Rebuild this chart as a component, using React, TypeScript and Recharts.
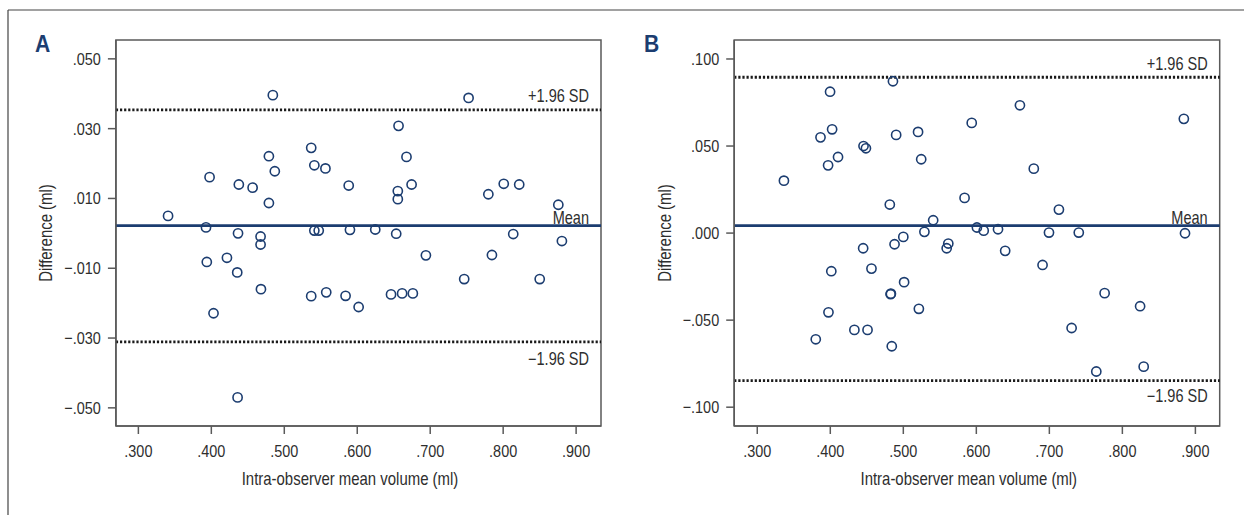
import React from 'react';
import { ScatterChart, Scatter, XAxis, YAxis, ReferenceLine, ReferenceArea, Label } from 'recharts';

const FONT = '"Liberation Sans", Arial, sans-serif';
const TEXT = '#2e2e2e';
const NAVY = '#1c3d70';
const BORDER = '#5a5a5a';

const xTicks = [0.3, 0.4, 0.5, 0.6, 0.7, 0.8, 0.9];
const yTicksA = [-0.05, -0.03, -0.01, 0.01, 0.03, 0.05];
const yTicksB = [-0.1, -0.05, 0, 0.05, 0.1];

const xDomainA = [0.2692, 0.9341];
const yDomainA = [-0.0552, 0.0554];
const xDomainB = [0.2684, 0.9333];
const yDomainB = [-0.1108, 0.1109];

const meanVolumeA = [
  0.3407, 0.3927, 0.3976, 0.3938, 0.403, 0.4214, 0.4377, 0.4366, 0.4355, 0.436,
  0.4566, 0.4675, 0.4675, 0.468, 0.4789, 0.4789, 0.4843, 0.487, 0.5369, 0.5369,
  0.5412, 0.5412, 0.5472, 0.5564, 0.5575, 0.584, 0.5883, 0.59, 0.6019, 0.6247,
  0.6534, 0.6556, 0.6556, 0.6566, 0.6463, 0.6615, 0.6675, 0.6745, 0.6762, 0.6941,
  0.7466, 0.7526, 0.7797, 0.7846, 0.8008, 0.8138, 0.822, 0.8501, 0.8756, 0.8805,
];
const differenceA = [
  0.005, 0.0017, 0.0161, -0.0082, -0.0229, -0.007, 0.014, 0.0, -0.0112, -0.047,
  0.0131, -0.0009, -0.0032, -0.016, 0.0221, 0.0087, 0.0396, 0.0178, 0.0245, -0.018,
  0.0195, 0.0008, 0.0008, 0.0186, -0.0169, -0.0179, 0.0137, 0.001, -0.0211, 0.0011,
  -0.0001, 0.0098, 0.0121, 0.0308, -0.0175, -0.0172, 0.0219, 0.014, -0.0172, -0.0063,
  -0.0131, 0.0388, 0.0112, -0.0062, 0.0142, -0.0002, 0.014, -0.0131, 0.0082, -0.0022,
];
const limitsA = [0.0354, 0.0022, -0.0311];

const meanVolumeB = [
  0.3365, 0.3801, 0.3866, 0.397, 0.3975, 0.3997, 0.4025, 0.4014, 0.4106, 0.433,
  0.445, 0.4455, 0.4488, 0.451, 0.4564, 0.4815, 0.4826, 0.483, 0.4842, 0.4858,
  0.488, 0.4902, 0.5, 0.5011, 0.5202, 0.5213, 0.5245, 0.5289, 0.5409, 0.5594,
  0.5616, 0.5839, 0.5937, 0.6008, 0.6101, 0.6297, 0.6395, 0.6597, 0.6787, 0.6907,
  0.6995, 0.7131, 0.7305, 0.7403, 0.7643, 0.7757, 0.8243, 0.8292, 0.8842, 0.8858,
];
const differenceB = [
  0.0301, -0.061, 0.055, 0.0389, -0.0455, 0.0812, 0.0596, -0.0219, 0.0437, -0.0556,
  -0.0087, 0.05, 0.0487, -0.0556, -0.0204, 0.0164, -0.0351, -0.0348, -0.065, 0.0872,
  -0.0064, 0.0564, -0.0022, -0.0282, 0.0581, -0.0435, 0.0424, 0.0007, 0.0074, -0.0087,
  -0.006, 0.0202, 0.0633, 0.0032, 0.0014, 0.0022, -0.0102, 0.0734, 0.037, -0.0183,
  0.0003, 0.0135, -0.0545, 0.0003, -0.0795, -0.0345, -0.042, -0.0767, 0.0656, -0.0001,
];
const limitsB = [0.0895, 0.0043, -0.0847];

const limitLabels = ['+1.96 SD', 'Mean', '\u22121.96 SD'];
const xTitle = 'Intra-observer mean volume (ml)';
const yTitle = 'Difference (ml)';

const fmt = (v: number) => {
  const s = Math.abs(v).toFixed(3).replace(/^0/, '');
  return v < -1e-9 ? '\u2212' + s : s;
};

// condensed text: Liberation Sans squeezed horizontally
const CText = (p: {
  x: number;
  y: number;
  anchor?: string;
  size: number;
  sx: number;
  rotate?: number;
  weight?: string;
  color?: string;
  children: React.ReactNode;
}) => (
  <text
    transform={`translate(${p.x},${p.y})${p.rotate ? ` rotate(${p.rotate})` : ''} scale(${p.sx},1)`}
    x={0}
    y={0}
    textAnchor={p.anchor || 'start'}
    fontFamily={FONT}
    fontSize={p.size}
    fontWeight={p.weight || 'normal'}
    fill={p.color || TEXT}
  >
    {p.children}
  </text>
);

const marker = (p: any) => (
  <circle cx={p.cx} cy={p.cy} r={4.6} fill="none" stroke={NAVY} strokeWidth={1.6} />
);

const refLabel = (text: string, dy: number) => (props: any) => {
  const vb = props.viewBox || {};
  return (
    <CText x={vb.x + vb.width - 12} y={vb.y + dy} anchor="end" size={17.5} sx={0.83}>
      {text}
    </CText>
  );
};

const xTick = (props: any) => (
  <CText x={props.x} y={props.y + 13} anchor="middle" size={17} sx={0.85}>
    {fmt(props.payload.value)}
  </CText>
);

const yTick = (props: any) => (
  <CText x={props.x} y={props.y + 6} anchor="end" size={17} sx={0.85}>
    {fmt(props.payload.value)}
  </CText>
);

type PanelProps = {
  left: number;
  width: number;
  marginLeft: number;
  marginRight: number;
  xDomain: number[];
  yDomain: number[];
  yTicks: number[];
  xs: number[];
  ys: number[];
  limits: number[];
  labelDy: number[];
  xTitleX: number;
  yTitleX: number;
};

const Panel = (p: PanelProps) => {
  const data = p.xs.map((x, i) => ({ x, y: p.ys[i] }));
  return (
    <div style={{ position: 'absolute', left: p.left, top: 0 }}>
      <ScatterChart
        width={p.width}
        height={515}
        margin={{ top: 40, right: p.marginRight, bottom: 19, left: p.marginLeft }}
      >
        <XAxis
          type="number"
          dataKey="x"
          domain={p.xDomain}
          ticks={xTicks}
          allowDataOverflow
          height={70}
          tickSize={8}
          tickMargin={10}
          tick={xTick}
          stroke={BORDER}
          axisLine={{ stroke: BORDER, strokeWidth: 1.5 }}
          tickLine={{ stroke: BORDER, strokeWidth: 1.5 }}
        >
          <Label
            content={() => (
              <CText x={p.xTitleX} y={485} anchor="middle" size={18} sx={0.83}>
                {xTitle}
              </CText>
            )}
          />
        </XAxis>
        <YAxis
          type="number"
          dataKey="y"
          domain={p.yDomain}
          ticks={p.yTicks}
          allowDataOverflow
          width={70}
          tickSize={8}
          tickMargin={7}
          tick={yTick}
          stroke={BORDER}
          axisLine={{ stroke: BORDER, strokeWidth: 1.5 }}
          tickLine={{ stroke: BORDER, strokeWidth: 1.5 }}
        >
          <Label
            content={() => (
              <CText x={p.yTitleX + 6} y={233} anchor="middle" size={18} sx={0.83} rotate={-90}>
                {yTitle}
              </CText>
            )}
          />
        </YAxis>
        <ReferenceArea
          x1={p.xDomain[0]}
          x2={p.xDomain[1]}
          y1={p.yDomain[0]}
          y2={p.yDomain[1]}
          fill="none"
          stroke={BORDER}
          strokeWidth={1.5}
          fillOpacity={0}
        />
        <ReferenceLine
          y={p.limits[0]}
          stroke="#1a1a1a"
          strokeWidth={2.8}
          strokeDasharray="2.2 1.9"
          label={refLabel(limitLabels[0], p.labelDy[0])}
        />
        <ReferenceLine
          y={p.limits[1]}
          stroke={NAVY}
          strokeWidth={2.6}
          label={refLabel(limitLabels[1], p.labelDy[1])}
        />
        <ReferenceLine
          y={p.limits[2]}
          stroke="#1a1a1a"
          strokeWidth={2.8}
          strokeDasharray="2.2 1.9"
          label={refLabel(limitLabels[2], p.labelDy[2])}
        />
        <Scatter data={data} shape={marker} isAnimationActive={false} />
      </ScatterChart>
    </div>
  );
};

export default function App() {
  return (
    <div style={{ position: 'absolute', left: 0, top: 0, width: 1244, height: 515, background: '#fff', overflow: 'hidden' }}>
      <svg width={1244} height={515} style={{ position: 'absolute', left: 0, top: 0 }}>
        <line x1={8} y1={10} x2={1244} y2={10} stroke="#444" strokeWidth={1.2} />
        <line x1={8} y1={10} x2={8} y2={515} stroke="#444" strokeWidth={1.2} />
        <CText x={35} y={52} size={24} sx={0.88} weight="bold" color={NAVY}>A</CText>
        <CText x={644} y={52} size={24} sx={0.88} weight="bold" color={NAVY}>B</CText>
      </svg>
      <Panel
        left={0}
        width={620}
        marginLeft={45.9}
        marginRight={19}
        xDomain={xDomainA}
        yDomain={yDomainA}
        yTicks={yTicksA}
        xs={meanVolumeA}
        ys={differenceA}
        limits={limitsA}
        labelDy={[-8, -1.5, 23.5]}
        xTitleX={350}
        yTitleX={45.5}
      />
      <Panel
        left={620}
        width={624}
        marginLeft={44.2}
        marginRight={24.3}
        xDomain={xDomainB}
        yDomain={yDomainB}
        yTicks={yTicksB}
        xs={meanVolumeB}
        ys={differenceB}
        limits={limitsB}
        labelDy={[-6.8, -1.5, 21]}
        xTitleX={348.8}
        yTitleX={45}
      />
    </div>
  );
}
